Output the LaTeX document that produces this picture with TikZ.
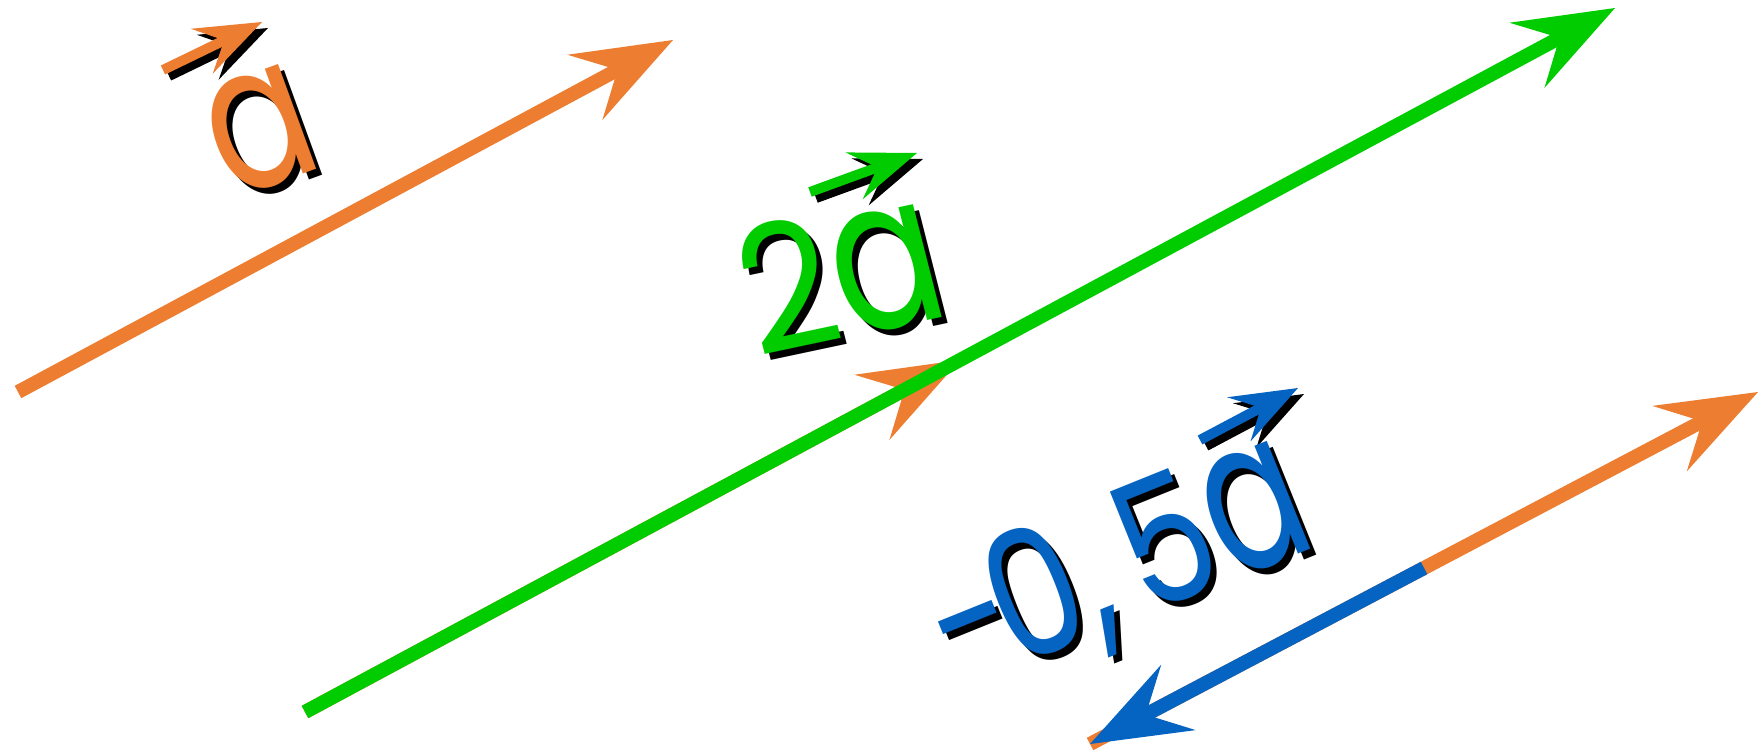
\documentclass[tikz,border=0pt]{standalone}
\usepackage{fontspec}
\usetikzlibrary{calc}
\newfontfamily\popfont{Poppins}
\definecolor{vorange}{RGB}{237,125,49}
\definecolor{vgreen}{RGB}{0,204,0}
\definecolor{vblue}{RGB}{5,99,193}
\newcommand{\tallA}[2]{\scalebox{1}[#1]{#2}}
\begin{document}
\begin{tikzpicture}[x=1pt,y=-1pt,
  shaft/.style={line width=14pt, line cap=butt, shorten >=60pt},
  smallshaft/.style={line width=10pt, line cap=butt, shorten >=38pt},
  lbl/.style={font=\popfont\fontsize{170pt}{170pt}\selectfont, inner sep=0pt, outer sep=0pt},
  lblA/.style={lbl, rotate=20, xscale=0.9, yscale=1.04},
  lblB/.style={lbl, rotate=12, xslant=-0.04, xscale=0.95, yscale=1.04},
  lblC/.style={lbl, rotate=22, xscale=0.85, yscale=1.04},
  bighead/.pic={\fill (0,0) -- (-100,37) -- (-63,0) -- (-100,-37) -- cycle;},
  smallhead/.pic={\fill (0,0) -- (-67,25) -- (-42,0) -- (-67,-25) -- cycle;}
]
\useasboundingbox (0,0) rectangle (1760,752);
% coordinates
\coordinate (a1t) at (18,392);
\coordinate (a1h) at (673,40);
\coordinate (gt) at (305,712);
\coordinate (gh) at (1615,8);
\coordinate (oh) at (960,360);
\coordinate (bt) at (1090,744);
\coordinate (bh) at (1758,392);
\coordinate (mt) at ($(bt)!0.5!(bh)$);
% vector a (top left)
\draw[shaft, vorange] (a1t) -- (a1h);
\pic[vorange, rotate=28.25] at (a1h) {bighead};
% vector a under 2a
\draw[shaft, vorange] (gt) -- (oh);
\pic[vorange, rotate=28.25] at (oh) {bighead};
% vector 2a
\draw[shaft, vgreen] (gt) -- (gh);
\pic[vgreen, rotate=28.25] at (gh) {bighead};
% vector a (bottom right)
\draw[shaft, vorange] (bt) -- (bh);
\pic[vorange, rotate=27.79] at (bh) {bighead};
% vector -0.5a
\draw[shaft, vblue] (mt) -- (bt);
\pic[vblue, rotate=207.79] at (bt) {bighead};
% label shadows
\begin{scope}[shift={(6,6)}]
  \node[lblA, black] (las) at (260,130) {\tallA{1.15}{a}};
  \node[lblB, black] (l2s) at (840,274) {2\tallA{1.2}{a}};
  \node[lblC, black] (l3s) at (1120,570) {-\kern-0.12em 0,\kern0.15em 5\tallA{1.2}{a}};
  \coordinate (s1t) at (163,70);  \coordinate (s1h) at (262,22);
  \coordinate (s2t) at (810,192); \coordinate (s2h) at (917,153);
  \coordinate (s3t) at (1200,440); \coordinate (s3h) at (1298,388);
  \draw[smallshaft, black] (s1t) -- (s1h);
  \pic[black, rotate=25.9] at (s1h) {smallhead};
  \draw[smallshaft, black] (s2t) -- (s2h);
  \pic[black, rotate=20.0] at (s2h) {smallhead};
  \draw[smallshaft, black] (s3t) -- (s3h);
  \pic[black, rotate=27.9] at (s3h) {smallhead};
\end{scope}
% labels
\node[lblA, vorange] (la) at (260,130) {\tallA{1.15}{a}};
\node[lblB, vgreen] (l2) at (840,274) {2\tallA{1.2}{a}};
\node[lblC, vblue] (l3) at (1120,570) {-\kern-0.12em 0,\kern0.15em 5\tallA{1.2}{a}};
\coordinate (c1t) at (163,70);  \coordinate (c1h) at (262,22);
\coordinate (c2t) at (810,192); \coordinate (c2h) at (917,153);
\coordinate (c3t) at (1200,440); \coordinate (c3h) at (1298,388);
\draw[smallshaft, vorange] (c1t) -- (c1h);
\pic[vorange, rotate=25.9] at (c1h) {smallhead};
\draw[smallshaft, vgreen] (c2t) -- (c2h);
\pic[vgreen, rotate=20.0] at (c2h) {smallhead};
\draw[smallshaft, vblue] (c3t) -- (c3h);
\pic[vblue, rotate=27.9] at (c3h) {smallhead};
\end{tikzpicture}
\end{document}
